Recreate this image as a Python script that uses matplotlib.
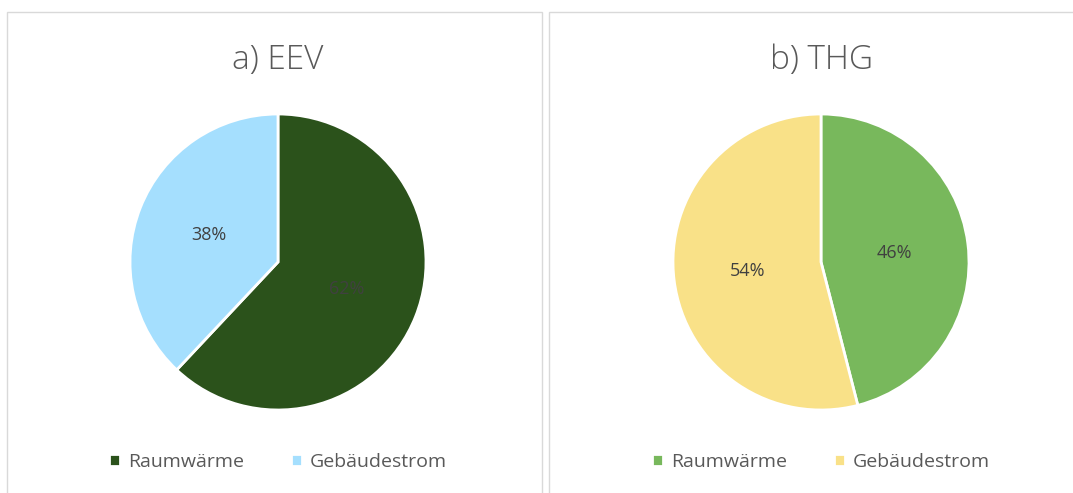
import matplotlib
matplotlib.use("Agg")
import matplotlib.pyplot as plt
from matplotlib.patches import Rectangle

# data
categories = ["Raumwärme", "Gebäudestrom"]
eev_values = [62, 38]
thg_values = [46, 54]
titles = ["a) EEV", "b) THG"]
eev_colors = ["#2b521b", "#a5dffe"]
thg_colors = ["#78b85c", "#f9e188"]

plt.rcParams["font.family"] = ["Open Sans", "DejaVu Sans"]
TEXT = "#595959"

W, H = 1073, 493
fig = plt.figure(figsize=(W / 100, H / 100), dpi=100)
fig.patch.set_facecolor("white")

# panel frames (pixel coordinates converted to figure fraction)
for x0, x1 in [(7, 542), (549, 1080)]:
    fig.patches.append(Rectangle((x0 / W, -0.05), (x1 - x0) / W, 1 - 12 / H + 0.05,
                                 transform=fig.transFigure, fill=False,
                                 edgecolor="#d9d9d9", linewidth=1.0))

panels = [(278, eev_values, eev_colors, titles[0]),
          (821, thg_values, thg_colors, titles[1])]
r = 148
cy = 262
for cx, vals, cols, title in panels:
    ax = fig.add_axes([(cx - r) / W, (H - cy - r) / H, 2 * r / W, 2 * r / H])
    wedges, _, autotexts = ax.pie(
        vals, colors=cols, startangle=90, counterclock=False,
        autopct="%d%%", pctdistance=0.5,
        wedgeprops=dict(edgecolor="white", linewidth=2))
    for t in autotexts:
        t.set_color("#404040")
        t.set_fontsize(13)
    ax.set_xlim(-1, 1)
    ax.set_ylim(-1, 1)
    ax.set_aspect("equal")
    ax.axis("off")
    fig.text(cx / W, 1 - 60 / H, title, ha="center", va="center",
             fontsize=24, color=TEXT, fontweight=300)
    fig.legend(wedges, categories, loc="center", ncol=2,
               bbox_to_anchor=(cx / W, 1 - 462 / H), frameon=False,
               fontsize=14, labelcolor=TEXT, handlelength=0.6, handleheight=0.6,
               handletextpad=0.4, columnspacing=2.4)

fig.savefig("out.png", dpi=100)
